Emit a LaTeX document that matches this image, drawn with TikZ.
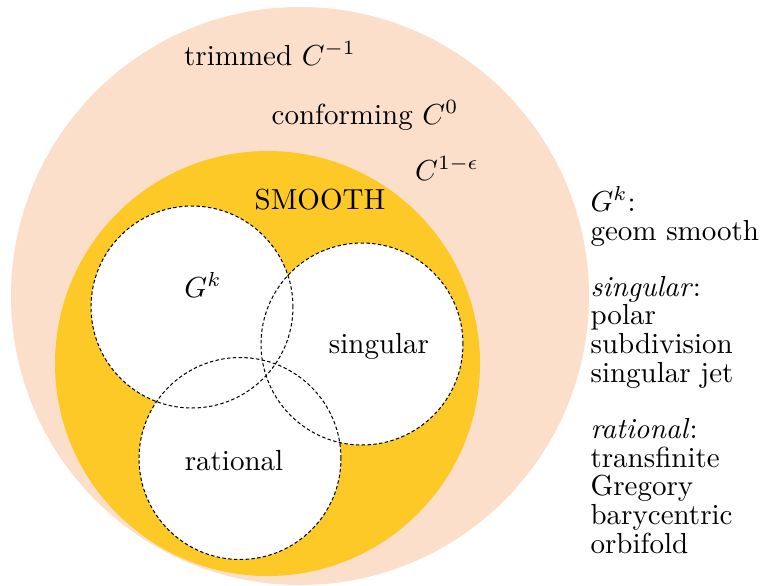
\documentclass[tikz,border=0pt]{standalone}
\definecolor{peach}{RGB}{252,223,203}
\definecolor{gold}{RGB}{253,201,38}
\tikzset{
  lbl/.style={inner sep=0pt,font=\fontsize{10}{9.83}\selectfont},
  setline/.style={draw=black,line width=0.35pt,dash pattern=on 1.2pt off 0.8pt},
}
\begin{document}
\begin{tikzpicture}[x=0.3448pt,y=-0.3448pt]
\useasboundingbox (0,0) rectangle (762,585);
\fill[peach] (300,296) circle[radius=99.65pt];
\fill[gold] (267.5,363.5) circle[radius=73.27pt];
\fill[white] (192,307) circle[radius=34.82pt]
             (362,344) circle[radius=34.82pt]
             (240,458.5) circle[radius=34.82pt];
\path[setline] (192,307) circle[radius=34.82pt]
             (362,344) circle[radius=34.82pt]
             (240,458.5) circle[radius=34.82pt];
\node[lbl,anchor=base] (trim) at (270,65) {trimmed $C^{-1}$};
\node[lbl,anchor=base] (conf) at (365,124) {conforming $C^0$};
\node[lbl,anchor=base] (ceps) at (447,180) {$C^{1-\epsilon}$};
\node[lbl,anchor=base] (smooth) at (320,209) {SMOOTH};
\node[lbl,anchor=base] (gk) at (203,297) {$G^k$};
\node[lbl,anchor=base] (sing) at (379,353) {singular};
\node[lbl,anchor=base] (rat) at (234,470) {rational};
\node[lbl,anchor=base west,align=left] (lgk) at (590,240) {$G^k$:\\geom smooth};
\node[lbl,anchor=base west,align=left] (lsing) at (590,382) {\textit{singular}:\\polar\\subdivision\\singular jet};
\node[lbl,anchor=base west,align=left] (lrat) at (590,553) {\textit{rational}:\\transfinite\\Gregory\\barycentric\\orbifold};
\end{tikzpicture}
\end{document}
